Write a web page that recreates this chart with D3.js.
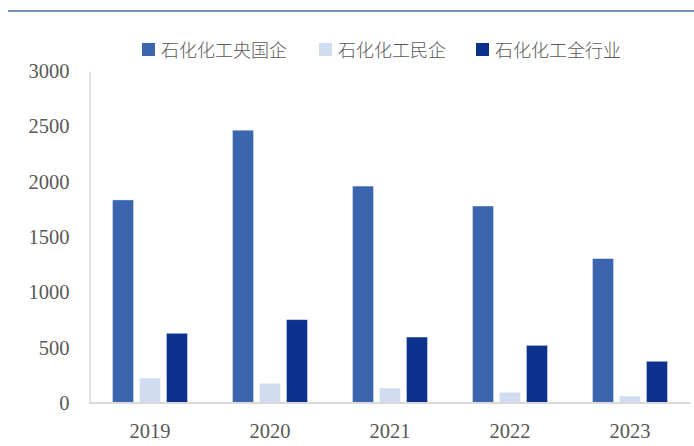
<!DOCTYPE html>
<html>
<head>
<meta charset="utf-8">
<script src="https://cdn.jsdelivr.net/npm/d3@7/dist/d3.min.js"></script>
<style>
  html, body { margin: 0; padding: 0; background: #fff; }
  svg { display: block; }
</style>
</head>
<body>
<svg id="chart" width="694" height="446"></svg>
<script>
// Categories, series and tick labels
const years = ["2019", "2020", "2021", "2022", "2023"];
const seriesNames = ["石化化工央国企", "石化化工民企", "石化化工全行业"];
const soeValues = [1835, 2465, 1960, 1780, 1305];
const privateValues = [226, 178, 135, 97, 63];
const industryValues = [630, 753, 596, 521, 377];
const yTicks = [0, 500, 1000, 1500, 2000, 2500, 3000];
const colors = ["#3c65b0", "#d0ddf1", "#0b318d"];

const seriesValues = [soeValues, privateValues, industryValues];

const svg = d3.select("#chart");
const plot = { left: 90, right: 690, top: 71, bottom: 403 };

const x = d3.scaleBand().domain(years).range([plot.left, plot.right]).padding(0);
const y = d3.scaleLinear().domain([0, 3000]).range([plot.bottom, plot.top]);
const xs = d3.scaleBand().domain(seriesNames).range([-37.5, 37.5]).paddingInner(0.22).paddingOuter(0);

// Header rule
svg.append("line")
  .attr("x1", 8).attr("x2", 694).attr("y1", 11).attr("y2", 11)
  .attr("stroke", "#7390c0").attr("stroke-width", 2);

// Bars
const groups = svg.append("g").selectAll("g")
  .data(years)
  .join("g")
  .attr("transform", d => `translate(${x(d) + x.bandwidth() / 2},0)`);

groups.selectAll("rect")
  .data((d, i) => seriesNames.map((s, k) => ({ s, k, v: seriesValues[k][i] })))
  .join("rect")
  .attr("x", d => xs(d.s))
  .attr("width", xs.bandwidth())
  .attr("y", d => y(d.v))
  .attr("height", d => y(0) - y(d.v))
  .attr("fill", d => colors[d.k])
  .attr("stroke", "#ffffff")
  .attr("stroke-opacity", 0.5)
  .attr("stroke-width", 0.75);

const numFont = "'Liberation Serif', 'DejaVu Serif', serif";

// Y axis
const yAxis = d3.axisLeft(y).tickValues(yTicks).tickSize(0).tickPadding(20).tickFormat(d3.format("d"));
const gy = svg.append("g").attr("transform", `translate(${plot.left - 0.5},0)`).call(yAxis);
gy.select(".domain").attr("stroke", "#d9d9d9").attr("stroke-width", 1.5);
gy.selectAll("text")
  .attr("font-family", numFont)
  .attr("font-size", 20.5)
  .attr("fill", "#595959");

// X axis
const xAxis = d3.axisBottom(x).tickSize(0).tickPadding(20);
const gx = svg.append("g").attr("transform", `translate(0,${plot.bottom})`).call(xAxis);
gx.select(".domain").attr("stroke", "#d9d9d9").attr("stroke-width", 2)
  .attr("d", `M${plot.left - 1},0H${plot.right + 1}`);
gx.selectAll("text")
  .attr("font-family", numFont)
  .attr("font-size", 20.5)
  .attr("fill", "#595959");

// Legend
const legendX = [142, 319, 476];
const legend = svg.append("g").selectAll("g")
  .data(seriesNames)
  .join("g")
  .attr("transform", (d, i) => `translate(${legendX[i]},43)`);
legend.append("rect")
  .attr("width", 13).attr("height", 13)
  .attr("fill", (d, i) => colors[i]);
legend.append("text")
  .attr("x", 19).attr("y", 7.5)
  .attr("dy", "0.36em")
  .attr("font-family", "'Noto Sans CJK SC', sans-serif")
  .attr("font-weight", 300)
  .attr("font-size", 18)
  .attr("fill", "#595959")
  .text(d => d);
</script>
</body>
</html>
